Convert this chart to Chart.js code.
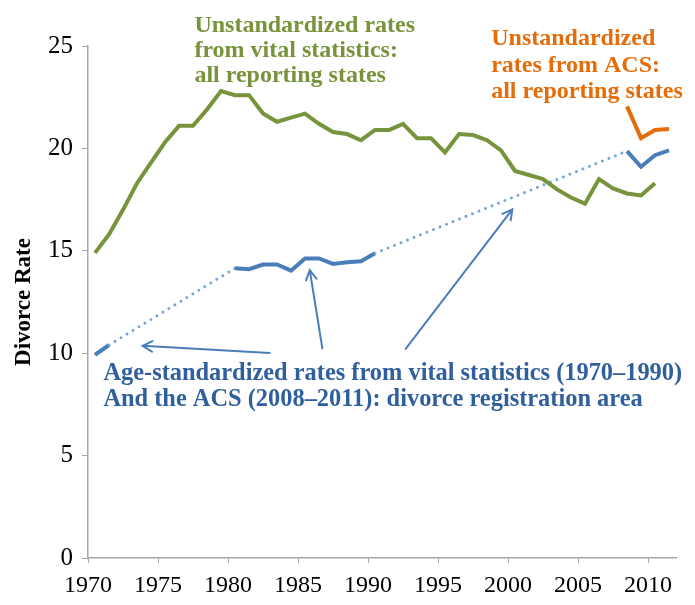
<!DOCTYPE html>
<html><head><meta charset="utf-8">
<script src="https://cdn.jsdelivr.net/npm/chart.js@4/dist/chart.umd.min.js"></script>
<style>html,body{margin:0;padding:0;background:#fff}canvas{display:block}</style>
</head><body>
<canvas id="c" width="695" height="605"></canvas>
<script>
// ---- data ----
const vitalYears = [1970,1971,1972,1973,1974,1975,1976,1977,1978,1979,1980,1981,1982,1983,1984,1985,1986,1987,1988,1989,1990,1991,1992,1993,1994,1995,1996,1997,1998,1999,2000,2001,2002,2003,2004,2005,2006,2007,2008,2009,2010];
const vitalUnstd = [14.9,15.8,17.0,18.3,19.3,20.3,21.1,21.1,21.9,22.8,22.6,22.6,21.7,21.3,21.5,21.7,21.2,20.8,20.7,20.4,20.9,20.9,21.2,20.5,20.5,19.8,20.7,20.65,20.4,19.9,18.9,18.7,18.5,18.0,17.6,17.3,18.5,18.05,17.8,17.7,18.3];
const acsYears = [2008,2009,2010,2011];
const acsUnstd = [22.05,20.5,20.9,20.95];
// age-standardized: vital statistics 1970-1990 (gaps where unavailable), ACS 2008-2011
const stdYears = [1970,1971,1972,1973,1974,1975,1976,1977,1978,1979,1980,1981,1982,1983,1984,1985,1986,1987,1988,1989,1990,1991,1992,1993,1994,1995,1996,1997,1998,1999,2000,2001,2002,2003,2004,2005,2006,2007,2008,2009,2010,2011];
const ageStd = [9.92,10.4,null,null,null,null,null,null,null,null,14.15,14.1,14.33,14.33,14.03,14.63,14.63,14.36,14.44,14.49,14.88,null,null,null,null,null,null,null,null,null,null,null,null,null,null,null,null,null,19.87,19.1,19.67,19.9];
const xTickStep = 5;
const yTicks = [0,5,10,15,20,25];

const GREEN = '#77933c', ORANGE = '#e46c0a', BLUE = '#4a7ebb', DOT = '#79a5db', TXTBLUE = '#2f5f9c';
const FONT = "'Liberation Serif', 'Times New Roman', serif";

// points plotted at mid-year
const pts = (ys, vs) => ys.map((yr, i) => ({x: yr + 0.5, y: vs[i]}));

// annotation layout (data coordinates)
const notes = [
  {color: GREEN, size: 24, x: 1977.6, y: [25.67, 24.45, 23.23], lines: ['Unstandardized rates', 'from vital statistics:', 'all reporting states']},
  {color: ORANGE, size: 24, x: 1998.8, y: [25.04, 23.75, 22.45], lines: ['Unstandardized', 'rates from ACS:', 'all reporting states']},
  {color: TXTBLUE, size: 24.4, x: 1971.1, y: [8.70, 7.43], lines: ['Age-standardized rates from vital statistics (1970\u20131990)', 'And the ACS (2008\u20132011): divorce registration area']}
];
const arrows = [
  {from: [1982.98, 10.01], to: [1973.9, 10.36]},
  {from: [1986.74, 10.24], to: [1985.84, 14.06]},
  {from: [1992.69, 10.21], to: [2000.31, 17.02]}
];

const annotate = {
  id: 'annotate',
  afterDatasetsDraw(chart) {
    const {ctx, scales: {x, y}} = chart;
    ctx.save();
    ctx.textBaseline = 'alphabetic';
    ctx.textAlign = 'left';
    for (const n of notes) {
      ctx.font = "bold " + n.size + "px " + FONT;
      ctx.fillStyle = n.color;
      n.lines.forEach((t, i) => ctx.fillText(t, x.getPixelForValue(n.x), y.getPixelForValue(n.y[i])));
    }
    ctx.strokeStyle = BLUE;
    ctx.lineWidth = 2;
    ctx.lineCap = 'round';
    for (const a of arrows) {
      const x0 = x.getPixelForValue(a.from[0]), y0 = y.getPixelForValue(a.from[1]);
      const x1 = x.getPixelForValue(a.to[0]), y1 = y.getPixelForValue(a.to[1]);
      const ang = Math.atan2(y1 - y0, x1 - x0), L = 11, w = 0.5;
      ctx.beginPath();
      ctx.moveTo(x0, y0); ctx.lineTo(x1, y1);
      ctx.moveTo(x1 - L * Math.cos(ang - w), y1 - L * Math.sin(ang - w));
      ctx.lineTo(x1, y1);
      ctx.lineTo(x1 - L * Math.cos(ang + w), y1 - L * Math.sin(ang + w));
      ctx.stroke();
    }
    ctx.restore();
  }
};

const gap = (ctx, v) => (ctx.p0.skip || ctx.p1.skip) ? v : undefined;

new Chart(document.getElementById('c'), {
  type: 'line',
  data: {
    datasets: [
      {label: 'Unstandardized, vital statistics', data: pts(vitalYears, vitalUnstd), borderColor: GREEN, borderWidth: 4, pointRadius: 0, tension: 0},
      {label: 'Unstandardized, ACS', data: pts(acsYears, acsUnstd), borderColor: ORANGE, borderWidth: 4, pointRadius: 0, tension: 0},
      {label: 'Age-standardized', data: pts(stdYears, ageStd), borderColor: BLUE, borderWidth: 4, pointRadius: 0, tension: 0, spanGaps: true,
        segment: {
          borderColor: c => gap(c, DOT),
          borderWidth: c => gap(c, 3),
          borderDash: c => gap(c, [0.01, 7]),
          borderCapStyle: c => gap(c, 'round')
        }}
    ]
  },
  options: {
    responsive: false,
    animation: false,
    layout: {padding: {top: 46, right: 19, left: 0, bottom: 0}},
    plugins: {legend: {display: false}, tooltip: {enabled: false}},
    scales: {
      x: {
        type: 'linear', min: 1970, max: 2012,
        afterFit: s => { s.height = 47; },
        border: {color: '#a6a6a6', width: 1.5},
        grid: {drawOnChartArea: false, tickLength: 5, color: '#a6a6a6'},
        ticks: {stepSize: xTickStep, includeBounds: false, padding: 8, color: '#000', font: {family: FONT, size: 24}, maxRotation: 0, callback: v => String(v)}
      },
      y: {
        min: 0, max: 25,
        afterFit: s => { s.width = 88; },
        afterBuildTicks: s => { s.ticks = yTicks.map(v => ({value: v})); },
        border: {color: '#a6a6a6', width: 1.5},
        grid: {drawOnChartArea: false, tickLength: 6, color: '#a6a6a6'},
        ticks: {padding: 9, color: '#000', font: {family: FONT, size: 25}},
        title: {display: true, text: 'Divorce Rate', color: '#000', font: {family: FONT, size: 23, weight: 'bold'}, padding: {top: 10, bottom: 0}}
      }
    }
  },
  plugins: [annotate]
});
</script>
</body></html>
